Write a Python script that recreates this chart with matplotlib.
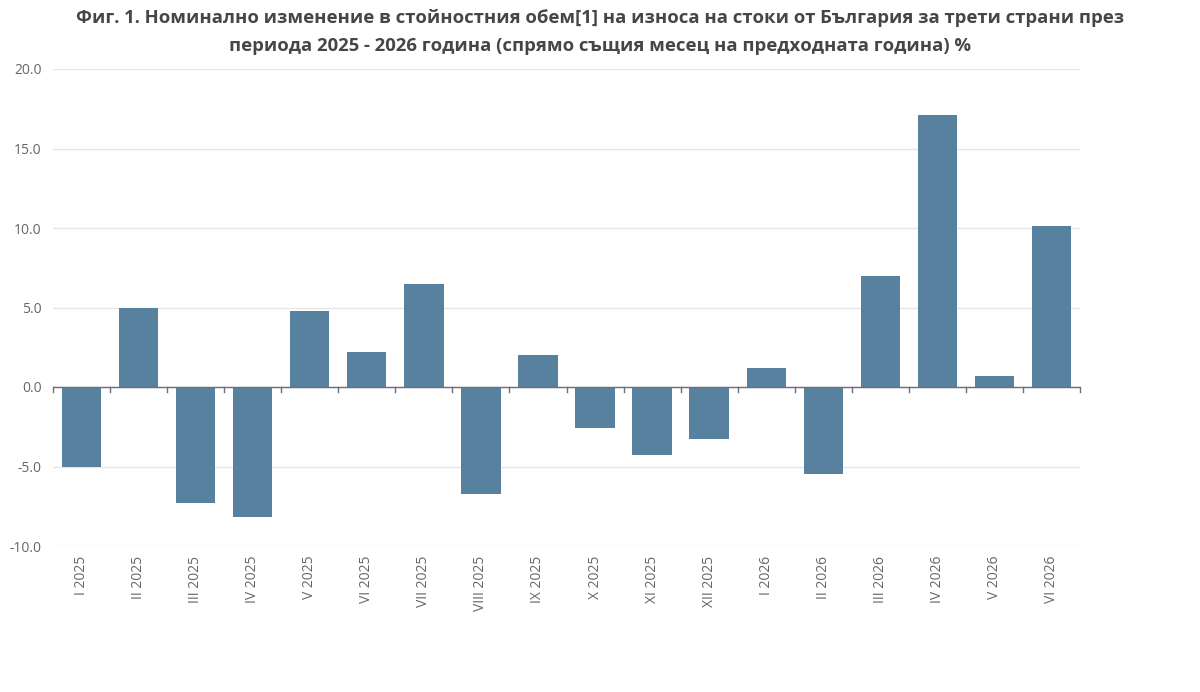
import matplotlib.pyplot as plt
import numpy as np

plt.rcParams['font.family'] = ['Open Sans', 'DejaVu Sans']

# данни
months = ["I 2025", "II 2025", "III 2025", "IV 2025", "V 2025", "VI 2025",
          "VII 2025", "VIII 2025", "IX 2025", "X 2025", "XI 2025", "XII 2025",
          "I 2026", "II 2026", "III 2026", "IV 2026", "V 2026", "VI 2026"]
values = [-5.0, 5.0, -7.3, -8.2, 4.8, 2.2, 6.5, -6.7, 2.0,
          -2.6, -4.3, -3.3, 1.2, -5.5, 7.0, 17.1, 0.7, 10.1]
yticks = [-10.0, -5.0, 0.0, 5.0, 10.0, 15.0, 20.0]

title = ("Фиг. 1. Номинално изменение в стойностния обем[1] на износа на стоки от България за трети страни през\n"
         "периода 2025 - 2026 година (спрямо същия месец на предходната година) %")

fig = plt.figure(figsize=(12, 6.92), dpi=100)
ax = fig.add_axes([53/1200, 1-546/692, (1080-53)/1200, (546-69)/692])

x = np.arange(len(months))
ax.bar(x, values, width=0.69, color="#57819f", zorder=3)

ax.set_xlim(-0.5, len(months)-0.5)
ax.set_ylim(-10, 20)
ax.set_yticks(yticks)
ax.set_yticklabels([f"{v:.1f}" for v in yticks], color="#666666", fontsize=10)
ax.grid(axis="y", color="#e6e6e6", linewidth=1, zorder=0)
ax.tick_params(axis="y", length=0, pad=8)

for s in ax.spines.values():
    s.set_visible(False)

# нулева ос с деления между категориите
ax.axhline(0, color="#6e7079", linewidth=1, zorder=4)
for b in np.arange(-0.5, len(months), 1.0):
    ax.plot([b, b], [0, -0.3], color="#6e7079", linewidth=1, zorder=4, clip_on=False)

ax.set_xticks(x)
ax.set_xticklabels(months, rotation=90, color="#666666", fontsize=10)
ax.tick_params(axis="x", length=0, pad=7)

fig.text(0.5, 1-32/692, title, ha="center", va="center", fontsize=13.3,
         fontweight="bold", color="#464646", linespacing=1.65)

fig.savefig("out.png", dpi=100)
